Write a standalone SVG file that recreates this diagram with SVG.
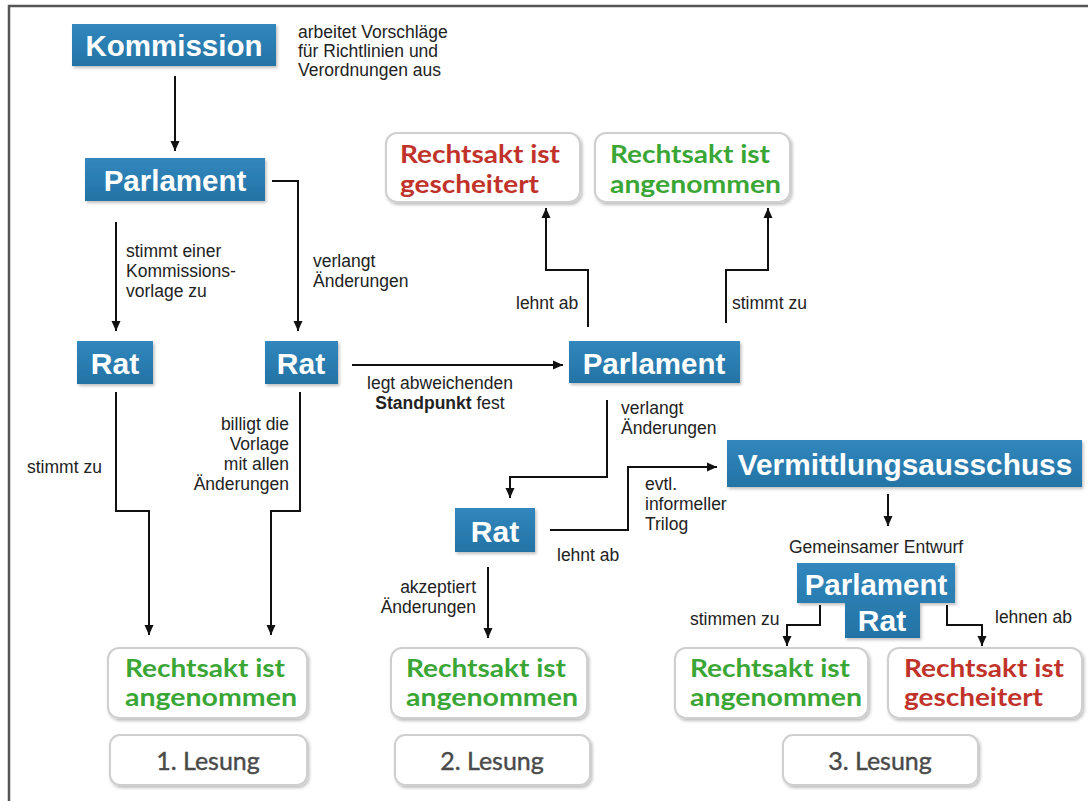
<svg xmlns="http://www.w3.org/2000/svg" width="1088" height="801" viewBox="0 0 1088 801">
<defs>
<marker id="ah" markerUnits="userSpaceOnUse" markerWidth="10" markerHeight="10" refX="10" refY="5" orient="auto">
<path d="M0,0.5 L10,5 L0,9.5 z" fill="#111"/>
</marker>
<linearGradient id="blue" x1="0" y1="0" x2="0" y2="1">
<stop offset="0" stop-color="#3187bd"/>
<stop offset="1" stop-color="#2473a5"/>
</linearGradient>
<filter id="sh" x="-10%" y="-10%" width="125%" height="130%">
<feDropShadow dx="1.5" dy="2" stdDeviation="1.5" flood-color="#000" flood-opacity="0.25"/>
</filter>
</defs>
<style>
.bn{fill:url(#blue);filter:url(#sh)}
.bt{font-family:"Liberation Sans",Arial,sans-serif;font-weight:bold;fill:#fff;text-anchor:middle}
.rb{fill:#fff;stroke:#cfcfcf;stroke-width:2;filter:url(#sh)}
.g{font-family:Lato,"Liberation Sans",sans-serif;font-weight:bold;font-size:25px;fill:#3aa636}
.r{font-family:Lato,"Liberation Sans",sans-serif;font-weight:bold;font-size:25px;fill:#c1332a}
.ls{font-family:Lato,"Liberation Sans",sans-serif;font-size:25px;fill:#4a4a4a;text-anchor:middle;stroke:#4a4a4a;stroke-width:0.4}
.lb{font-family:"Liberation Sans",Arial,sans-serif;font-size:17.5px;fill:#222}
.c path{fill:none;stroke:#111;stroke-width:2;marker-end:url(#ah)}
</style>
<rect width="1088" height="801" fill="#fff"/>
<path d="M9,801 V6 H1088" fill="none" stroke="#555" stroke-width="2.5"/>

<g id="connectors" class="c">
<path d="M175,76 V151"/>
<path d="M272,181 H298 V331"/>
<path d="M116,222 V331"/>
<path d="M352,365 H563"/>
<path d="M116,392 V511 H149 V635"/>
<path d="M300,392 V511 H271 V635"/>
<path d="M588,327 V270 H546 V208"/>
<path d="M726,323 V270 H768 V208"/>
<path d="M607,400 V477 H510 V498"/>
<path d="M550,530 H628 V467 H717"/>
<path d="M488,567 V638"/>
<path d="M888,494 V526"/>
<path d="M820,605 V625 H787 V646"/>
<path d="M947,605 V625 H982 V646"/>
</g>

<g id="labels">
<text class="lb"><tspan x="298" y="38">arbeitet Vorschläge</tspan><tspan x="298" y="57">für Richtlinien und</tspan><tspan x="298" y="76">Verordnungen aus</tspan></text>
<text class="lb"><tspan x="126" y="257">stimmt einer</tspan><tspan x="126" y="277">Kommissions-</tspan><tspan x="126" y="297">vorlage zu</tspan></text>
<text class="lb"><tspan x="313" y="267">verlangt</tspan><tspan x="313" y="287">Änderungen</tspan></text>
<text class="lb" x="27" y="473">stimmt zu</text>
<text class="lb" text-anchor="end"><tspan x="289" y="430">billigt die</tspan><tspan x="289" y="450">Vorlage</tspan><tspan x="289" y="470">mit allen</tspan><tspan x="289" y="490">Änderungen</tspan></text>
<text class="lb" text-anchor="middle"><tspan x="440" y="389">legt abweichenden</tspan><tspan x="440" y="409"><tspan font-weight="bold">Standpunkt</tspan> fest</tspan></text>
<text class="lb" x="516" y="309">lehnt ab</text>
<text class="lb" x="732" y="309">stimmt zu</text>
<text class="lb"><tspan x="621" y="414">verlangt</tspan><tspan x="621" y="434">Änderungen</tspan></text>
<text class="lb"><tspan x="645" y="490">evtl.</tspan><tspan x="645" y="510">informeller</tspan><tspan x="645" y="530">Trilog</tspan></text>
<text class="lb" x="557" y="561">lehnt ab</text>
<text class="lb" text-anchor="end"><tspan x="476" y="593">akzeptiert</tspan><tspan x="476" y="613">Änderungen</tspan></text>
<text class="lb" x="789" y="553">Gemeinsamer Entwurf</text>
<text class="lb" x="690" y="625">stimmen zu</text>
<text class="lb" x="995" y="623">lehnen ab</text>
</g>

<g id="kommission"><rect class="bn" x="72" y="24" width="204" height="42"/><text class="bt" x="174" y="56" font-size="29.5">Kommission</text></g>
<g id="parlament1"><rect class="bn" x="85" y="158" width="180" height="43"/><text class="bt" x="175" y="191" font-size="29.5">Parlament</text></g>
<g id="rat1"><rect class="bn" x="77" y="341" width="76" height="43"/><text class="bt" x="115" y="374" font-size="30">Rat</text></g>
<g id="rat2"><rect class="bn" x="265" y="341" width="73" height="43"/><text class="bt" x="301" y="374" font-size="30">Rat</text></g>
<g id="parlament2"><rect class="bn" x="569" y="341" width="171" height="42"/><text class="bt" x="654" y="374" font-size="29.5">Parlament</text></g>
<g id="rat3"><rect class="bn" x="455" y="508" width="80" height="44"/><text class="bt" x="495" y="542" font-size="30">Rat</text></g>
<g id="vermittlungsausschuss"><rect class="bn" x="727" y="440" width="355" height="47"/><text class="bt" x="905" y="475" font-size="29.8">Vermittlungsausschuss</text></g>
<g id="parlament-rat"><path class="bn" d="M797,563 H955 V603 H920 V638 H845 V603 H797 z"/><text class="bt" x="876" y="595" font-size="29.5">Parlament</text><text class="bt" x="882" y="631" font-size="30">Rat</text></g>

<g id="gescheitert-top"><rect class="rb" x="386" y="133" width="194" height="69" rx="11"/><text class="r" x="400" y="163" textLength="160" lengthAdjust="spacingAndGlyphs">Rechtsakt ist</text><text class="r" x="400" y="193" textLength="139" lengthAdjust="spacingAndGlyphs">gescheitert</text></g>
<g id="angenommen-top"><rect class="rb" x="595" y="133" width="195" height="69" rx="11"/><text class="g" x="610" y="163" textLength="160" lengthAdjust="spacingAndGlyphs">Rechtsakt ist</text><text class="g" x="610" y="193" textLength="171" lengthAdjust="spacingAndGlyphs">angenommen</text></g>

<g id="angenommen1"><rect class="rb" x="108" y="648" width="199" height="70" rx="11"/><text class="g" x="125" y="677" textLength="160" lengthAdjust="spacingAndGlyphs">Rechtsakt ist</text><text class="g" x="125" y="706" textLength="172" lengthAdjust="spacingAndGlyphs">angenommen</text></g>
<g id="angenommen2"><rect class="rb" x="391" y="648" width="196" height="70" rx="11"/><text class="g" x="406" y="677" textLength="160" lengthAdjust="spacingAndGlyphs">Rechtsakt ist</text><text class="g" x="406" y="706" textLength="172" lengthAdjust="spacingAndGlyphs">angenommen</text></g>
<g id="angenommen3"><rect class="rb" x="675" y="648" width="193" height="70" rx="11"/><text class="g" x="690" y="677" textLength="160" lengthAdjust="spacingAndGlyphs">Rechtsakt ist</text><text class="g" x="690" y="706" textLength="172" lengthAdjust="spacingAndGlyphs">angenommen</text></g>
<g id="gescheitert3"><rect class="rb" x="888" y="648" width="194" height="70" rx="11"/><text class="r" x="904" y="677" textLength="160" lengthAdjust="spacingAndGlyphs">Rechtsakt ist</text><text class="r" x="904" y="706" textLength="139" lengthAdjust="spacingAndGlyphs">gescheitert</text></g>

<g id="lesung1"><rect class="rb" x="110" y="735" width="197" height="50" rx="10"/><text class="ls" x="208" y="770">1. Lesung</text></g>
<g id="lesung2"><rect class="rb" x="395" y="735" width="195" height="50" rx="10"/><text class="ls" x="492" y="770">2. Lesung</text></g>
<g id="lesung3"><rect class="rb" x="783" y="735" width="195" height="50" rx="10"/><text class="ls" x="880" y="770">3. Lesung</text></g>
</svg>
